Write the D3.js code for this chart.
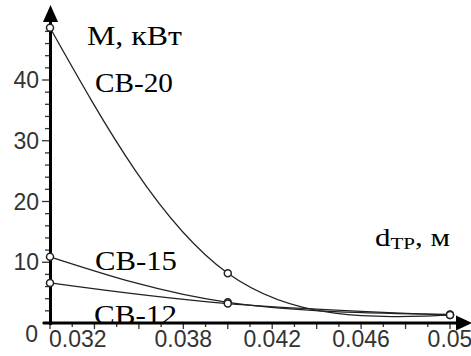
<!DOCTYPE html>
<html>
<head>
<meta charset="utf-8">
<script src="https://cdn.jsdelivr.net/npm/d3@7/dist/d3.min.js"></script>
<style>
  body { margin: 0; background: #fff; }
  svg { display: block; }
</style>
</head>
<body>
<div id="chart"></div>
<script>
// d, m  (pipe diameter) and power M, kW for each pump
const dValues = [0.032, 0.040, 0.050];
const sv20 = [48.6, 8.2, 1.3];
const sv15 = [10.9, 3.4, 1.4];
const sv12 = [6.6, 3.2, 1.3];

const xTickLabels = [0.032, 0.038, 0.042, 0.046, 0.05];
const yTickLabels = [0, 10, 20, 30, 40];

const W = 471, H = 356;

const svg = d3.select("#chart").append("svg")
  .attr("width", W)
  .attr("height", H);

// scales
const x = d3.scaleLinear().domain([0.032, 0.05]).range([50, 450]);
const y = d3.scaleLinear().domain([0, 40]).range([323, 80]);

// curve labels (drawn first so the axis sits on top)
const serif = "'Liberation Serif', 'Times New Roman', serif";
function label(txt, lx, ly, len, size) {
  svg.append("text")
    .attr("x", lx).attr("y", ly)
    .attr("font-family", serif)
    .attr("font-size", size)
    .attr("textLength", len)
    .attr("lengthAdjust", "spacingAndGlyphs")
    .attr("fill", "#000")
    .text(txt);
}
label("М, кВт", 87, 45, 95, 27);
label("СВ-20", 95, 92, 78, 27);
label("СВ-15", 95, 270, 82, 27);
label("СВ-12", 94, 324, 83, 27);

// axis label d_TP, м
const dl = svg.append("text")
  .attr("x", 375).attr("y", 246)
  .attr("font-family", serif)
  .attr("font-size", 25)
  .attr("textLength", 75)
  .attr("lengthAdjust", "spacingAndGlyphs");
dl.append("tspan").text("d");
dl.append("tspan").attr("font-size", 17).attr("dy", 3).text("ТР");
dl.append("tspan").attr("dy", -3).text(", м");

// ticks on y axis (left side): every 2 units, long every 10
const yTicks = d3.range(0, 50, 2);
svg.append("g").selectAll("line")
  .data(yTicks)
  .enter().append("line")
  .attr("x1", d => d % 10 === 0 ? 42 : 45)
  .attr("x2", 50)
  .attr("y1", d => y(d)).attr("y2", d => y(d))
  .attr("stroke", "#333")
  .attr("stroke-width", 1.3);

// ticks on x axis (below): every 0.001
const xTicks = d3.range(32, 51).map(v => v / 1000);
svg.append("g").selectAll("line")
  .data(xTicks)
  .enter().append("line")
  .attr("x1", d => x(d)).attr("x2", d => x(d))
  .attr("y1", 323)
  .attr("y2", (d, i) => i % 2 === 0 ? 329 : 327)
  .attr("stroke", "#333")
  .attr("stroke-width", 1.3);

// tick labels
const sans = "'Liberation Sans', Arial, sans-serif";
svg.append("g").selectAll("text")
  .data(yTickLabels)
  .enter().append("text")
  .attr("x", d => d === 0 ? 38 : 39)
  .attr("y", d => d === 0 ? y(d) + 19 : y(d) + 8)
  .attr("text-anchor", "end")
  .attr("font-family", sans)
  .attr("font-size", 23)
  .attr("fill", "#333")
  .text(d => d);

svg.append("g").selectAll("text")
  .data(xTickLabels)
  .enter().append("text")
  .attr("x", (d, i) => i === 0 ? x(d) - 1 : x(d))
  .attr("y", 347)
  .attr("text-anchor", (d, i) => i === 0 ? "start" : "middle")
  .attr("font-family", sans)
  .attr("font-size", 23)
  .attr("fill", "#333")
  .text(d => d);

// axes with arrows
svg.append("line")
  .attr("x1", 50.5).attr("x2", 50.5)
  .attr("y1", 325).attr("y2", 20)
  .attr("stroke", "#000").attr("stroke-width", 3);
svg.append("path")
  .attr("d", "M50.5,5 L43,22 L58,22 Z")
  .attr("fill", "#000");

svg.append("line")
  .attr("x1", 43).attr("x2", 458)
  .attr("y1", 323).attr("y2", 323)
  .attr("stroke", "#000").attr("stroke-width", 3);
svg.append("path")
  .attr("d", "M472,323 L456,315.5 L456,330.5 Z")
  .attr("fill", "#000");

// curves
const line = d3.line()
  .x(d => x(d[0]))
  .y(d => y(d[1]))
  .curve(d3.curveNatural);

const series = [sv20, sv15, sv12];
series.forEach(s => {
  const pts = dValues.map((d, i) => [d, s[i]]);
  svg.append("path")
    .datum(pts)
    .attr("d", line)
    .attr("fill", "none")
    .attr("stroke", "#222")
    .attr("stroke-width", 1.3);
  svg.append("g").selectAll("circle")
    .data(pts)
    .enter().append("circle")
    .attr("cx", d => x(d[0]))
    .attr("cy", d => y(d[1]))
    .attr("r", 3.5)
    .attr("fill", "#fff")
    .attr("stroke", "#222")
    .attr("stroke-width", 1.5);
});
</script>
</body>
</html>
